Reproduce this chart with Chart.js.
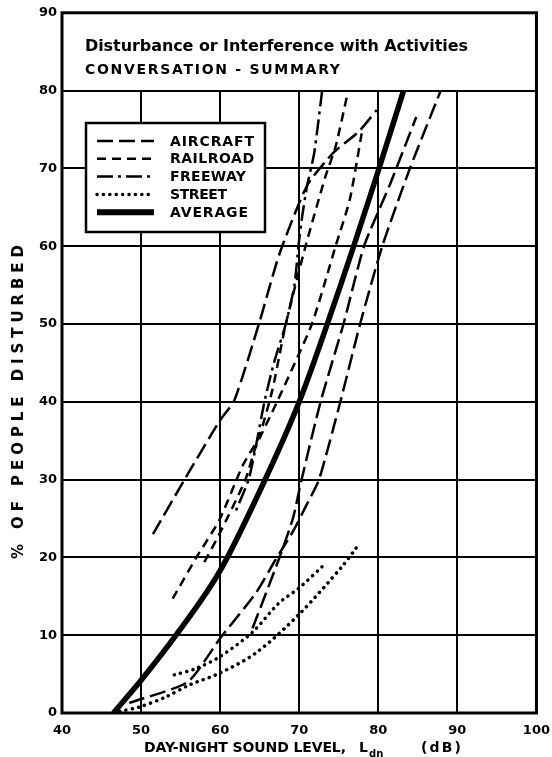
<!DOCTYPE html>
<html>
<head>
<meta charset="utf-8">
<script src="https://cdn.jsdelivr.net/npm/chart.js@4.4.1/dist/chart.umd.min.js"></script>
<style>
html, body { margin: 0; padding: 0; background: #fff; }
canvas { display: block; }
</style>
</head>
<body>
<canvas id="myChart" width="552" height="757"></canvas>
<script>
// axis ticks
const xTicks = [40, 50, 60, 70, 80, 90, 100]
const yTicks = [0, 10, 20, 30, 40, 50, 60, 70, 80, 90]

// aircraft curves (long dash)
const aircraft1X = [51.5, 55.5, 59.9, 61.8, 64.9, 67.5, 71.0, 74.3, 77.5, 79.8]
const aircraft1Y = [23, 30, 37.5, 40.2, 50, 59, 67.8, 72, 74.7, 77.5]
const aircraft2X = [48.5, 55.9, 60.0, 64.5, 67.0, 69.3, 70.8, 72.5, 75.2, 77.7, 80.5, 84.0, 87.9]
const aircraft2Y = [1.3, 4, 9.6, 15.4, 19.7, 23.5, 26.5, 30, 40, 50, 60, 70, 80]
const aircraft3X = [64.1, 67.4, 69.2, 70.3, 72.7, 75.6, 78.2, 81.5, 84.8]
const aircraft3Y = [10.9, 19.7, 25, 30, 40, 50, 60, 68, 76.6]

// railroad curves (short dash)
const railroad1X = [54.0, 57.0, 59.9, 62.8, 64.9, 66.6, 68.3, 70.8, 73.3, 74.6, 76.2]
const railroad1Y = [14.7, 20, 24.8, 31.7, 35.5, 41.5, 50, 60, 68.9, 72.8, 80]
const railroad2X = [58.0, 60.0, 63.2, 64.5, 67.2, 71.6, 74.6, 76.4, 77.9]
const railroad2Y = [19.4, 23.2, 30, 34.2, 40, 50, 60, 66, 74.5]

// freeway curve (dash - dot)
const freewayX = [72.9, 71.9, 71.0, 70.4, 69.9, 69.4, 68.3, 66.8, 65.6, 64.5, 63.6, 62.0]
const freewayY = [80, 72, 67.8, 64, 60, 55, 50, 45, 40, 34.2, 30, 26]

// street curves (dotted)
const street1X = [54.2, 56.9, 59.9, 64.1, 67.4, 69.9, 73.1]
const street1Y = [4.9, 5.7, 7.2, 10.4, 14.1, 16, 19]
const street2X = [47.3, 49.9, 53.2, 56.1, 59.9, 64.5, 69.9, 75.4, 77.2]
const street2Y = [0.2, 0.8, 2.1, 3.6, 5.1, 7.7, 12.6, 18.8, 21.2]

// average
const averageX = [46.5, 50, 55, 60, 65, 70, 75, 80, 83.2]
const averageY = [0, 4.2, 10.8, 18.3, 28.5, 40, 54.3, 69.7, 80]

const labelFont = '"DejaVu Sans", sans-serif'

const AIR_DASH = [16, 6]
const RAIL_DASH = [9, 6]
const FWY_DASH = [16, 5, 3, 5]
const DOT_DASH = [0.1, 6.3]

function pts(xs, ys) {
    return xs.map((x, i) => ({ x: x, y: ys[i] }))
}

function curve(xs, ys, dash, width, tension, mode) {
    return {
        data: pts(xs, ys),
        borderColor: '#000',
        borderWidth: width,
        borderDash: dash,
        borderCapStyle: dash === DOT_DASH ? 'round' : 'butt',
        pointRadius: 0,
        tension: tension,
        cubicInterpolationMode: mode || 'default',
        fill: false
    }
}

// write text stretched with letter spacing so it spans a given width
function fitText(ctx, text, x, y, width, size) {
    ctx.font = 'bold ' + size + 'px ' + labelFont
    ctx.letterSpacing = '0px'
    const w = ctx.measureText(text).width
    ctx.letterSpacing = ((width - w) / Math.max(text.length - 1, 1)) + 'px'
    ctx.fillText(text, x, y)
}

// grid, frame, title, legend and axis titles
const decor = {
    id: 'decor',
    beforeDatasetsDraw(chart) {
        const ctx = chart.ctx
        const xs = chart.scales.x, ys = chart.scales.y
        ctx.save()
        ctx.strokeStyle = '#000'
        ctx.lineWidth = 2
        xTicks.slice(1, -1).forEach(v => {
            const px = Math.round(xs.getPixelForValue(v))
            ctx.beginPath()
            ctx.moveTo(px, ys.getPixelForValue(0))
            ctx.lineTo(px, ys.getPixelForValue(80))
            ctx.stroke()
        })
        ctx.restore()
    },
    afterDatasetsDraw(chart) {
        const ctx = chart.ctx
        const a = chart.chartArea
        ctx.save()
        // frame
        ctx.strokeStyle = '#000'
        ctx.lineWidth = 3
        ctx.strokeRect(a.left, a.top, a.right - a.left, a.bottom - a.top)

        // title inside top band
        ctx.fillStyle = '#000'
        ctx.textBaseline = 'alphabetic'
        ctx.textAlign = 'left'
        fitText(ctx, 'Disturbance or Interference with Activities', 85, 51, 383, 16)
        fitText(ctx, 'CONVERSATION - SUMMARY', 85, 74, 255, 14)

        // legend box
        const bx = 86, by = 123, bw = 179, bh = 109
        ctx.fillStyle = '#fff'
        ctx.fillRect(bx, by, bw, bh)
        ctx.lineWidth = 2.5
        ctx.strokeRect(bx, by, bw, bh)
        const rows = [
            ['AIRCRAFT', AIR_DASH, 2.5, 'butt', 84],
            ['RAILROAD', RAIL_DASH, 2.5, 'butt', 84],
            ['FREEWAY', FWY_DASH, 2.5, 'butt', 76],
            ['STREET', DOT_DASH, 3.5, 'round', 57],
            ['AVERAGE', [], 6, 'butt', 78]
        ]
        rows.forEach((r, i) => {
            const yy = 141 + i * 17.8
            ctx.beginPath()
            ctx.setLineDash(r[1])
            ctx.lineWidth = r[2]
            ctx.lineCap = r[3]
            ctx.moveTo(97, yy)
            ctx.lineTo(154, yy)
            ctx.stroke()
            ctx.setLineDash([])
            ctx.fillStyle = '#000'
            ctx.textBaseline = 'middle'
            fitText(ctx, r[0], 170, yy + 1, r[4], 14)
        })

        // x axis title with subscript
        ctx.textBaseline = 'alphabetic'
        fitText(ctx, 'DAY-NIGHT SOUND LEVEL,', 144, 752, 202, 14)
        fitText(ctx, 'L', 359, 752, 8, 14)
        ctx.font = 'bold 10px ' + labelFont
        ctx.letterSpacing = '0px'
        ctx.fillText('dn', 369, 757)
        fitText(ctx, '(dB)', 421, 752, 40, 14)

        // y axis title
        ctx.translate(23, 402)
        ctx.rotate(-Math.PI / 2)
        ctx.textAlign = 'left'
        fitText(ctx, '% OF PEOPLE DISTURBED', -157, 0, 314, 15)
        ctx.restore()
    }
}

const ctx = document.getElementById('myChart')
const chart = new Chart(ctx, {
    type: 'line',
    data: {
        datasets: [
            curve(aircraft1X, aircraft1Y, AIR_DASH, 2.5, 0.2),
            curve(aircraft2X, aircraft2Y, AIR_DASH, 2.5, 0.2),
            curve(aircraft3X, aircraft3Y, AIR_DASH, 2.5, 0.2),
            curve(railroad1X, railroad1Y, RAIL_DASH, 2.5, 0.2),
            curve(railroad2X, railroad2Y, RAIL_DASH, 2.5, 0.2),
            curve(freewayX, freewayY, FWY_DASH, 2.5, 0.2),
            curve(street1X, street1Y, DOT_DASH, 3.5, 0.3),
            curve(street2X, street2Y, DOT_DASH, 3.5, 0.3),
            curve(averageX, averageY, [], 5.5, 0, 'monotone')
        ]
    },
    options: {
        responsive: false,
        animation: false,
        layout: { padding: { top: 12, right: 12, left: 0, bottom: 0 } },
        plugins: {
            legend: { display: false },
            tooltip: { enabled: false }
        },
        scales: {
            x: {
                type: 'linear',
                min: 40,
                max: 100,
                afterBuildTicks: s => { s.ticks = xTicks.map(v => ({ value: v })) },
                afterFit: s => { s.height = 44 },
                grid: { display: false },
                border: { display: false },
                ticks: {
                    color: '#000',
                    padding: 2,
                    maxRotation: 0,
                    font: { family: labelFont, size: 13, weight: 'bold' }
                }
            },
            y: {
                type: 'linear',
                min: 0,
                max: 90,
                afterBuildTicks: s => { s.ticks = yTicks.map(v => ({ value: v })) },
                afterFit: s => { s.width = 62 },
                grid: { color: '#000', lineWidth: 2, drawTicks: false },
                border: { display: false },
                ticks: {
                    color: '#000',
                    padding: 5,
                    font: { family: labelFont, size: 13, weight: 'bold' }
                }
            }
        }
    },
    plugins: [decor]
})
</script>
</body>
</html>
